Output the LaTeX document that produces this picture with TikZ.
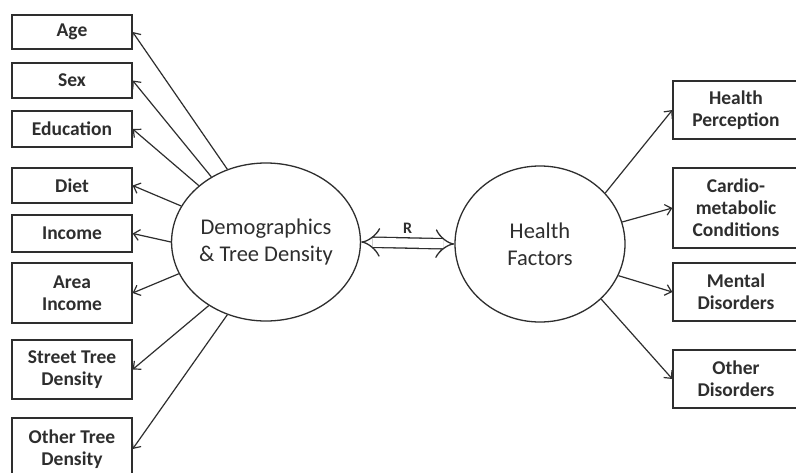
\documentclass[tikz,border=0pt]{standalone}
\usepackage{fontspec}
\setmainfont{Carlito}
\usetikzlibrary{arrows.meta,shapes.geometric}
\definecolor{ink}{HTML}{2E2E2E}
\tikzset{
  box/.style={draw=ink, line width=1.3pt, inner sep=0pt, font=\fontsize{19.5}{22}\selectfont\bfseries, text=ink, align=center},
  bubble/.style={draw=ink, line width=1.3pt, ellipse, font=\fontsize{22.5}{27}\selectfont, text=ink, align=center},
  link/.style={draw=ink, line width=1.2pt, -{Straight Barb[length=6pt,width=11pt,line width=1.2pt]}},
}
\begin{document}
\begin{tikzpicture}[x=1pt,y=-1pt]
\path[use as bounding box] (0,0) rectangle (796,472);
\clip (0,0) rectangle (796,472);
\fill[white] (0,0) rectangle (796,472);
% left boxes
\node[box, minimum width=120pt, minimum height=34pt] (age) at (72,32) {Age};
\node[box, minimum width=120pt, minimum height=35pt] (sex) at (72,80.5) {Sex};
\node[box, minimum width=120pt, minimum height=36pt] (edu) at (72,129) {Education};
\node[box, minimum width=120pt, minimum height=35pt] (diet) at (72,185.5) {Diet};
\node[box, minimum width=120pt, minimum height=37pt] (inc) at (72,233.5) {Income};
\node[box, minimum width=120pt, minimum height=60pt] (area) at (72,293) {Area\\Income};
\node[box, minimum width=120pt, minimum height=59pt] (street) at (72,369.5) {Street Tree\\Density};
\node[box, minimum width=120pt, minimum height=62pt] (other) at (72,449) {Other Tree\\Density};
% right boxes
\node[box, minimum width=126pt, minimum height=58pt, text width=120pt] (hp) at (736,110) {Health\\Perception};
\node[box, minimum width=126pt, minimum height=80pt, text width=120pt] (cardio) at (736,208) {Cardio-\\metabolic\\Conditions};
\node[box, minimum width=126pt, minimum height=58pt, text width=120pt] (mental) at (736,292) {Mental\\Disorders};
\node[box, minimum width=126pt, minimum height=58pt, text width=120pt] (odis) at (736,379) {Other\\Disorders};
% circles
\node[bubble, minimum width=170pt, minimum height=158pt, inner sep=0pt] (demo) at (266,242) {Demographics\\\& Tree Density};
\node[bubble, minimum width=170pt, minimum height=156pt, inner sep=0pt] (hf) at (540,244) {Health\\Factors};
% double arrow
\draw[draw=ink, line width=1.3pt, double=white, double distance=9pt, {Implies}-{Implies}] (demo.east) -- node[above=6pt, text=ink, font=\fontsize{16}{18}\selectfont\bfseries] (r) {R} (hf.west);
% left arrows
\draw[link] (demo.118) -- (age.east);
\draw[link] (demo.130) -- (sex.east);
\draw[link] (demo.140) -- (edu.east);
\draw[link] (demo.157) -- (diet.east);
\draw[link] (demo.180) -- (inc.east);
\draw[link] (demo.200) -- (area.east);
\draw[link] (demo.228) -- (street.east);
\draw[link] (demo.242) -- (other.east);
% right arrows
\draw[link] (hf.38) -- (hp.west);
\draw[link] (hf.15) -- (cardio.west);
\draw[link] (hf.-22) -- (mental.west);
\draw[link] (hf.-42) -- (odis.west);
\end{tikzpicture}
\end{document}
